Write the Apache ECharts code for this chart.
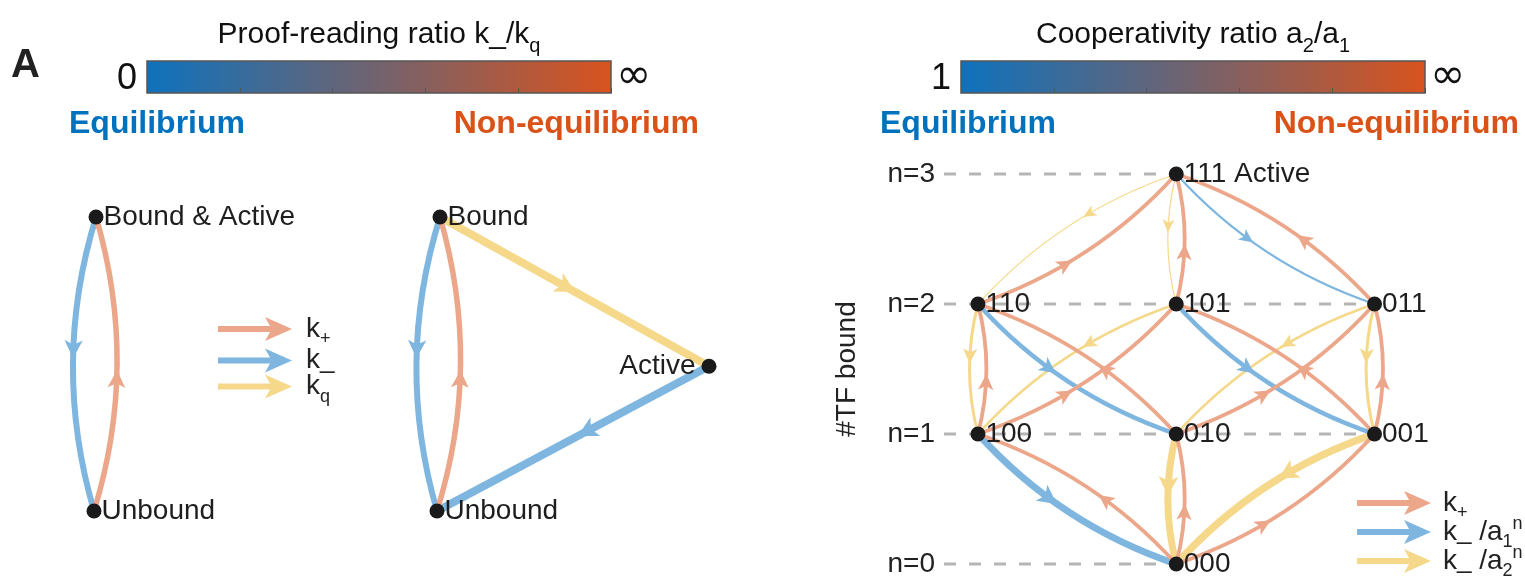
<!DOCTYPE html>
<html><head><meta charset="utf-8">
<script src="https://cdn.jsdelivr.net/npm/echarts@6/dist/echarts.min.js"></script>
<style>html,body{margin:0;padding:0;background:#fff}#c{width:1525px;height:582px}</style>
</head><body><div id="c"></div>
<script>
// ---------------- data ----------------
const FONT = 'Liberation Sans';
const panelLetter = 'A';
const leftTitle = ['Proof-reading ratio k_/k', 'q'];
const rightTitle = ['Cooperativity ratio a', '2', '/a', '1'];
const leftCbEnds = ['0', '\u221E'];
const rightCbEnds = ['1', '\u221E'];
const regimeLabels = ['Equilibrium', 'Non-equilibrium'];
const cbRange = [0, 1];
const cbColors = ['#0E72BD', '#D9531E'];
const regimeColors = ['#0072BD', '#D95319'];

// left panel (two-state / three-state schemes)
const leftNodeIds    = ['BA', 'U1', 'B', 'U2', 'A'];
const leftNodeLabels = ['Bound & Active', 'Unbound', 'Bound', 'Unbound', 'Active'];
const leftNodeX      = [0.0033, 0, 0.5626, 0.5577, 1];
const leftNodeY      = [1, 0, 1, 0, 0.4924];
const leftNodeSide   = ['right', 'right', 'right', 'right', 'left'];
// from, to, rate type, line width, bent(1)/straight(0)
const leftEdges = [
  ['BA', 'U1', 'minus', 6, 1],
  ['U1', 'BA', 'plus', 5.5, 1],
  ['B', 'U2', 'minus', 6, 1],
  ['U2', 'B', 'plus', 5.5, 1],
  ['B', 'A', 'q', 8, 0],
  ['A', 'U2', 'minus', 8, 0]
];

// right panel (3 binding sites)
const rightNodeIds = ['111', '110', '101', '011', '100', '010', '001', '000'];
const rightNodeLabels = ['111 Active', '110', '101', '011', '100', '010', '001', '000'];
const rightNodeX = [0, -1, 0, 1, -1, 0, 1, 0];
const rightNodeN = [3, 2, 2, 2, 1, 1, 1, 0];
const levels = [0, 1, 2, 3];
const rightEdges = [
  // unbinding (down)
  ['100', '000', 'a1', 7],
  ['010', '000', 'a2', 7],
  ['001', '000', 'a2', 7.5],
  ['110', '100', 'a2', 3],
  ['101', '100', 'a2', 2.5],
  ['110', '010', 'a1', 4.5],
  ['011', '010', 'a2', 2.5],
  ['101', '001', 'a1', 4.5],
  ['011', '001', 'a2', 3],
  ['111', '110', 'a2', 1.2],
  ['111', '101', 'a2', 1.2],
  ['111', '011', 'a1', 2.2],
  // binding (up)
  ['000', '100', 'plus', 3.8],
  ['000', '010', 'plus', 3.8],
  ['000', '001', 'plus', 3.8],
  ['100', '110', 'plus', 3.8],
  ['100', '101', 'plus', 3.8],
  ['010', '110', 'plus', 3.8],
  ['010', '011', 'plus', 3.8],
  ['001', '101', 'plus', 3.8],
  ['001', '011', 'plus', 3.8],
  ['110', '111', 'plus', 3.8],
  ['101', '111', 'plus', 3.8],
  ['011', '111', 'plus', 3.8]
];
const legendLeft = {'L+': ['k', '+'], 'L-': ['k', '_'], 'Lq': ['k', 'q']};
const legendRight = {'R+': ['k', '+'], 'R1': ['k', '_', ' /a', '1', 'n'], 'R2': ['k', '_', ' /a', '2', 'n']};

// ---------------- styles ----------------
const COL = {plus: '#ECA68A', minus: '#7EB6DF', q: '#F5D88A', a1: '#7EB6DF', a2: '#F5D88A'};
const RIGHT_XMIN = -1.1713, RIGHT_XMAX = 1.1713;
const ARROW = 'path://M0,9 L52,9 L47,0 L74,12 L47,24 L52,15 L0,15 Z';

function edgeRenderer(color, bend, tArrow) {
  return function (params, api) {
    const p0 = api.coord([api.value(0), api.value(1)]);
    const p1 = api.coord([api.value(2), api.value(3)]);
    const w = api.value(4);
    const b = api.value(5) * bend;
    const dx = p1[0] - p0[0], dy = p1[1] - p0[1];
    const len = Math.hypot(dx, dy);
    const nx = -dy / len, ny = dx / len;
    const cx = (p0[0] + p1[0]) / 2 + nx * b * len;
    const cy = (p0[1] + p1[1]) / 2 + ny * b * len;
    const t = tArrow;
    const px = (1 - t) * (1 - t) * p0[0] + 2 * t * (1 - t) * cx + t * t * p1[0];
    const py = (1 - t) * (1 - t) * p0[1] + 2 * t * (1 - t) * cy + t * t * p1[1];
    let tx = 2 * (1 - t) * (cx - p0[0]) + 2 * t * (p1[0] - cx);
    let ty = 2 * (1 - t) * (cy - p0[1]) + 2 * t * (p1[1] - cy);
    const tl = Math.hypot(tx, ty); tx /= tl; ty /= tl;
    const vx = -ty, vy = tx;
    const L = 12 + w, hw = 5 + 0.7 * w;
    const pts = [
      [px + tx * L / 2, py + ty * L / 2],
      [px - tx * L / 2 + vx * hw, py - ty * L / 2 + vy * hw],
      [px - tx * L / 4, py - ty * L / 4],
      [px - tx * L / 2 - vx * hw, py - ty * L / 2 - vy * hw]
    ];
    return {
      type: 'group',
      children: [
        {type: 'bezierCurve', shape: {x1: p0[0], y1: p0[1], x2: p1[0], y2: p1[1], cpx1: cx, cpy1: cy},
         style: {stroke: color, lineWidth: w, fill: 'none'}},
        {type: 'polygon', shape: {points: pts}, style: {fill: color, stroke: 'none'}}
      ]
    };
  };
}

function edgeData(edges, ids, xs, ys, type) {
  return edges.filter(e => e[2] === type).map(e => {
    const a = ids.indexOf(e[0]), b = ids.indexOf(e[1]);
    return [xs[a], ys[a], xs[b], ys[b], e[3], e.length > 4 ? e[4] : 1];
  });
}

function edgeSeries(name, xi, edges, ids, xs, ys, type, bend, tA, z) {
  return {
    name: name, type: 'custom', xAxisIndex: xi, yAxisIndex: xi, z: z,
    itemStyle: {color: COL[type]},
    encode: {x: [0, 2], y: [1, 3]},
    renderItem: edgeRenderer(COL[type], bend, tA),
    data: edgeData(edges, ids, xs, ys, type),
    animation: false, silent: true
  };
}

function cbSeries(xi) {
  return {
    type: 'custom', xAxisIndex: xi, yAxisIndex: xi, z: 2, silent: true,
    encode: {x: [0, 1]},
    data: [[cbRange[0], cbRange[1]]],
    renderItem: function (params, api) {
      const a = api.coord([api.value(0), 0]);
      const b = api.coord([api.value(1), 1]);
      return {
        type: 'rect',
        shape: {x: a[0], y: b[1], width: b[0] - a[0], height: a[1] - b[1]},
        style: {
          fill: new echarts.graphic.LinearGradient(0, 0, 1, 0, [
            {offset: 0, color: cbColors[0]}, {offset: 1, color: cbColors[1]}]),
          stroke: '#555', lineWidth: 1.5
        }
      };
    }
  };
}

function nodeSeries(xi, labels, xs, ys, sides) {
  return {
    type: 'scatter', xAxisIndex: xi, yAxisIndex: xi, z: 20, silent: true,
    symbolSize: 15, itemStyle: {color: '#1a1a1a', opacity: 1},
    label: {show: true, fontSize: 28, fontFamily: FONT, color: '#1e1e1e', distance: 0,
            formatter: p => p.name},
    data: labels.map((l, i) => ({
      name: l, value: [xs[i], ys[i]],
      label: {position: sides ? sides[i] : 'right', distance: sides && sides[i] === 'left' ? 6 : 0}
    }))
  };
}

function legendRich(pad) {
  return {
    p: {fontSize: 28, fontFamily: FONT, color: '#222', lineHeight: 39, padding: [0, 0, 0, pad]},
    m: {fontSize: 28, fontFamily: FONT, color: '#222', lineHeight: 39},
    d: {fontSize: 26, fontFamily: FONT, color: '#222', lineHeight: 39},
    s: {fontSize: 18, fontFamily: FONT, color: '#222', verticalAlign: 'bottom'},
    u: {fontSize: 18, fontFamily: FONT, color: '#222', verticalAlign: 'top', padding: [3, 0, 0, 0]}
  };
}
function legendFmt(map) {
  return function (name) {
    const t = map[name];
    let s = '{p|' + t[0] + '}' + (t[1] === '_' ? '{d|_}' : '{s|' + t[1] + '}');
    if (t.length > 2) s += '{m|' + t[2] + '}{s|' + t[3] + '}{u|' + t[4] + '}';
    return s;
  };
}

const rightNodeXEnd = levels.map(n => Math.max(...rightNodeX.filter((x, i) => rightNodeN[i] === n)));

const titleRich = {
  m: {fontSize: 30, lineHeight: 43, fontFamily: FONT, fill: '#111'},
  s: {fontSize: 20, verticalAlign: 'bottom', fontFamily: FONT, fill: '#111'}
};

function txt(x, y, text, opts) {
  return {type: 'text', x: x, y: y, z: 50, style: Object.assign({
    text: text, fontFamily: FONT, fill: '#111', align: 'left', verticalAlign: 'middle',
    textAlign: 'left', textVerticalAlign: 'middle'}, opts || {})};
}

const option = {
  backgroundColor: '#fff',
  animation: false,
  grid: [
    {left: 147, top: 61, width: 464, height: 32},
    {left: 961, top: 61, width: 464, height: 32},
    {left: 94, top: 217, width: 615, height: 294},
    {left: 944, top: 174, width: 464.5, height: 390}
  ],
  xAxis: [
    {gridIndex: 0, type: 'value', min: 0, max: 1, interval: 0.2, z: 10,
     axisLine: {show: false}, axisLabel: {show: false}, splitLine: {show: false},
     axisTick: {show: true, inside: true, length: 5, lineStyle: {color: '#555', width: 1}}},
    {gridIndex: 1, type: 'value', min: 0, max: 1, interval: 0.2, z: 10,
     axisLine: {show: false}, axisLabel: {show: false}, splitLine: {show: false},
     axisTick: {show: true, inside: true, length: 5, lineStyle: {color: '#555', width: 1}}},
    {gridIndex: 2, type: 'value', min: 0, max: 1, show: false},
    {gridIndex: 3, type: 'value', min: RIGHT_XMIN, max: RIGHT_XMAX, show: false}
  ],
  yAxis: [
    {gridIndex: 0, type: 'value', min: 0, max: 1, show: false},
    {gridIndex: 1, type: 'value', min: 0, max: 1, show: false},
    {gridIndex: 2, type: 'value', min: 0, max: 1, show: false},
    {gridIndex: 3, type: 'value', min: 0, max: 3, interval: 1,
     axisLine: {show: false}, axisTick: {show: false}, splitLine: {show: false},
     axisLabel: {formatter: 'n={value}', fontSize: 28, fontFamily: FONT, color: '#222', margin: 9},
     name: '#TF bound', nameLocation: 'middle', nameGap: 83, nameRotate: 90,
     nameTextStyle: {fontSize: 28, fontFamily: FONT, color: '#222'}}
  ],
  legend: [
    {data: ['L+', 'L-', 'Lq'], orient: 'vertical', left: 218, top: 315, height: 160, padding: 0,
     itemWidth: 74, itemHeight: 24, itemGap: -2, icon: ARROW, selectedMode: false,
     itemStyle: {borderWidth: 0}, formatter: legendFmt(legendLeft),
     textStyle: {rich: legendRich(9)}},
    {data: ['R+', 'R1', 'R2'], orient: 'vertical', left: 1357, top: 489, height: 160, padding: 0,
     itemWidth: 74, itemHeight: 24, itemGap: -7, icon: ARROW, selectedMode: false,
     itemStyle: {borderWidth: 0}, formatter: legendFmt(legendRight),
     textStyle: {rich: legendRich(7)}}
  ],
  graphic: [
    txt(11, 66, panelLetter, {fontSize: 40, fontWeight: 'bold', fill: '#222'}),
    {type: 'text', x: 379, y: 13, z: 50, style: {
      text: '{m|' + leftTitle[0] + '}{s|' + leftTitle[1] + '}', rich: titleRich,
      align: 'center', verticalAlign: 'top', textAlign: 'center', textVerticalAlign: 'top'}},
    {type: 'text', x: 1193, y: 13, z: 50, style: {
      text: '{m|' + rightTitle[0] + '}{s|' + rightTitle[1] + '}{m|' + rightTitle[2] + '}{s|' + rightTitle[3] + '}',
      rich: titleRich,
      align: 'center', verticalAlign: 'top', textAlign: 'center', textVerticalAlign: 'top'}},
    txt(137, 79, leftCbEnds[0], {fontSize: 36, align: 'right', textAlign: 'right'}),
    txt(616, 77, leftCbEnds[1], {fontSize: 42, fontFamily: 'DejaVu Sans'}),
    txt(951, 79, rightCbEnds[0], {fontSize: 36, align: 'right', textAlign: 'right'}),
    txt(1430, 77, rightCbEnds[1], {fontSize: 42, fontFamily: 'DejaVu Sans'}),
    txt(69, 124, regimeLabels[0], {fontSize: 32, fontWeight: 'bold', fill: regimeColors[0]}),
    txt(699, 124, regimeLabels[1], {fontSize: 32, fontWeight: 'bold', fill: regimeColors[1], align: 'right', textAlign: 'right'}),
    txt(880, 124, regimeLabels[0], {fontSize: 32, fontWeight: 'bold', fill: regimeColors[0]}),
    txt(1519, 124, regimeLabels[1], {fontSize: 32, fontWeight: 'bold', fill: regimeColors[1], align: 'right', textAlign: 'right'})
  ],
  series: [
    cbSeries(0),
    cbSeries(1),
    edgeSeries('Lq', 2, leftEdges, leftNodeIds, leftNodeX, leftNodeY, 'q', 0.15, 0.47, 3),
    edgeSeries('L-', 2, leftEdges, leftNodeIds, leftNodeX, leftNodeY, 'minus', 0.15, 0.45, 4),
    edgeSeries('L+', 2, leftEdges, leftNodeIds, leftNodeX, leftNodeY, 'plus', 0.15, 0.45, 5),
    nodeSeries(2, leftNodeLabels, leftNodeX, leftNodeY, leftNodeSide),
    {
      type: 'custom', xAxisIndex: 3, yAxisIndex: 3, z: 1, silent: true,
      encode: {x: [0, 2], y: 1},
      data: levels.map((n, i) => [RIGHT_XMIN, n, rightNodeXEnd[i]]),
      renderItem: function (params, api) {
        const a = api.coord([api.value(0), api.value(1)]);
        const b = api.coord([api.value(2), api.value(1)]);
        return {type: 'line', shape: {x1: a[0], y1: a[1], x2: b[0], y2: b[1]},
                style: {stroke: '#B5B5B5', lineWidth: 3, lineDash: [12, 13]}};
      }
    },
    edgeSeries('R2', 3, rightEdges, rightNodeIds, rightNodeX, rightNodeN, 'a2', 0.13, 0.4, 3),
    edgeSeries('R1', 3, rightEdges, rightNodeIds, rightNodeX, rightNodeN, 'a1', 0.13, 0.4, 4),
    edgeSeries('R+', 3, rightEdges, rightNodeIds, rightNodeX, rightNodeN, 'plus', 0.13, 0.4, 5),
    nodeSeries(3, rightNodeLabels, rightNodeX, rightNodeN, null)
  ]
};

const chart = echarts.init(document.getElementById('c'), null, {renderer: 'canvas'});
chart.setOption(option);
</script>
</body></html>
